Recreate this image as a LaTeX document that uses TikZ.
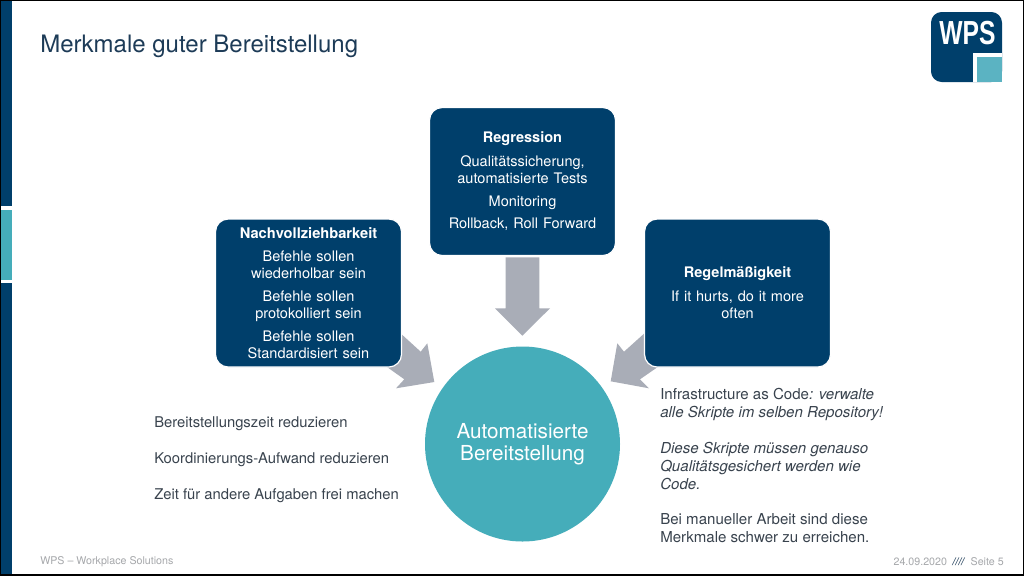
\documentclass[tikz,border=0pt]{standalone}
\usepackage{fontspec}
\setmainfont{TeX Gyre Heros}
\newfontfamily\logofont{Liberation Sans}
\definecolor{navy}{HTML}{003F6B}
\definecolor{teal1}{HTML}{45ADBA}
\definecolor{teal2}{HTML}{5BB3C2}
\definecolor{arrowgray}{HTML}{A9ADB7}
\definecolor{titlecol}{HTML}{1D3B57}
\definecolor{bodycol}{HTML}{39434E}
\definecolor{footcol}{HTML}{A6A8AB}
\newcommand{\fs}[2]{\fontsize{#1}{#2}\selectfont}
\tikzset{
  x=0.75pt,y=-0.75pt,
  card/.style={fill=navy,draw=white,line width=0.9pt,rounded corners=9.5pt,minimum width=139.5pt,minimum height=111pt,inner sep=0pt,text=white,align=center,text width=132pt,font=\fs{10.9}{12.9}},
  blockarrow/.style={fill=arrowgray,draw=none},
  plain/.style={inner sep=0pt,anchor=west,align=left},
}
\begin{document}
\begin{tikzpicture}
\useasboundingbox (0,0) rectangle (1024,576);
\fill[white] (0,0) rectangle (1024,576);
% left bar
\fill[navy] (1,0) rectangle (12,206);
\fill[teal1] (1,210) rectangle (12,280);
\fill[navy] (1,283) rectangle (12,576);
% frame
\draw[black,line width=0.9pt] (0,0.5) -- (1024,0.5);
\draw[black,line width=1.2pt] (0,575) -- (1024,575);
\draw[black,line width=0.8pt] (1023.5,0) -- (1023.5,576);
\draw[black,line width=0.8pt] (0.4,0) -- (0.4,576);
% logo
\fill[navy,rounded corners=8pt] (931,12) rectangle (1002,82);
\fill[white] (973,53) rectangle (1002,82);
\fill[teal2] (977,57) rectangle (1002,82);
\node[inner sep=0pt,text=white,font=\logofont\bfseries\fs{25}{25}] (logo) at (967.5,33.5) {\scalebox{0.74}[1]{WPS}};
% title
\node[plain,text=titlecol,font=\fs{18}{20}] (title) at (40,46) {Merkmale guter Bereitstellung};
% arrows
\fill[blockarrow] (505.7,257.3) -- (539.3,257.3) -- (539.3,308.3) -- (550,308.3) -- (522.3,335.7) -- (495,308.3) -- (505.7,308.3) -- cycle;
\fill[blockarrow] (398,331) -- (420.7,351.7) -- (427.3,343.3) -- (434.3,382) -- (396,388.3) -- (404.3,379.3) -- (380,362) -- cycle;
\fill[blockarrow] (647,331) -- (624,351.7) -- (617.3,343.3) -- (610.7,381.3) -- (649,388.3) -- (640,379.3) -- (665,362) -- cycle;
% cards
\node[card] (nach) at (308.5,293) {\textbf{\fs{11}{12.9}Nachvollziehbarkeit}\\[4.7pt]Befehle sollen\\wiederholbar sein\\[4pt]Befehle sollen\\protokolliert sein\\[4pt]Befehle sollen\\Standardisiert sein};
\node[card] (regr) at (522.5,181.5) {\textbf{Regression}\\[4.7pt]Qualitätssicherung,\\automatisierte Tests\\[4pt]Monitoring\\[4pt]Rollback, Roll Forward};
\node[card] (regel) at (737.5,293) {\textbf{Regelmäßigkeit}\\[4.7pt]If it hurts, do it more\\often};
% circle
\node[circle,fill=teal1,minimum size=146.25pt,inner sep=0pt,text=white,align=center,font=\fs{15.5}{17}] (auto) at (522.5,444) {\raisebox{-1pt}{Automatisierte}\\\raisebox{-0.5pt}{Bereitstellung}};
% left texts
\node[plain,text=bodycol,font=\fs{11.1}{13}] (t1) at (154,424) {Bereitstellungszeit reduzieren};
\node[plain,text=bodycol,font=\fs{11.1}{13}] (t2) at (154,460) {Koordinierungs-Aufwand reduzieren};
\node[plain,text=bodycol,font=\fs{11.1}{13}] (t3) at (154,496) {Zeit für andere Aufgaben frei machen};
% right text
\node[plain,anchor=north west,text=bodycol,font=\fs{11.3}{13.4}] (t4) at (660,388) {Infrastructure as Code\textit{: verwalte}\\\textit{alle Skripte im selben Repository!}\\[13.5pt]\textit{Diese Skripte müssen genauso}\\\textit{Qualitätsgesichert werden wie}\\\textit{Code.}\\[13.5pt]Bei manueller Arbeit sind diese\\Merkmale schwer zu erreichen.};
% footer
\node[plain,text=footcol,font=\fs{8}{10}] (f1) at (40,562) {WPS – Workplace Solutions};
\node[plain,anchor=east,text=footcol,font=\fs{8}{10}] (f2) at (1004,562) {24.09.2020\hspace{4pt}\textcolor{titlecol}{\textbf{\textit{////}}}\hspace{4pt}Seite 5};
\end{tikzpicture}
\end{document}
